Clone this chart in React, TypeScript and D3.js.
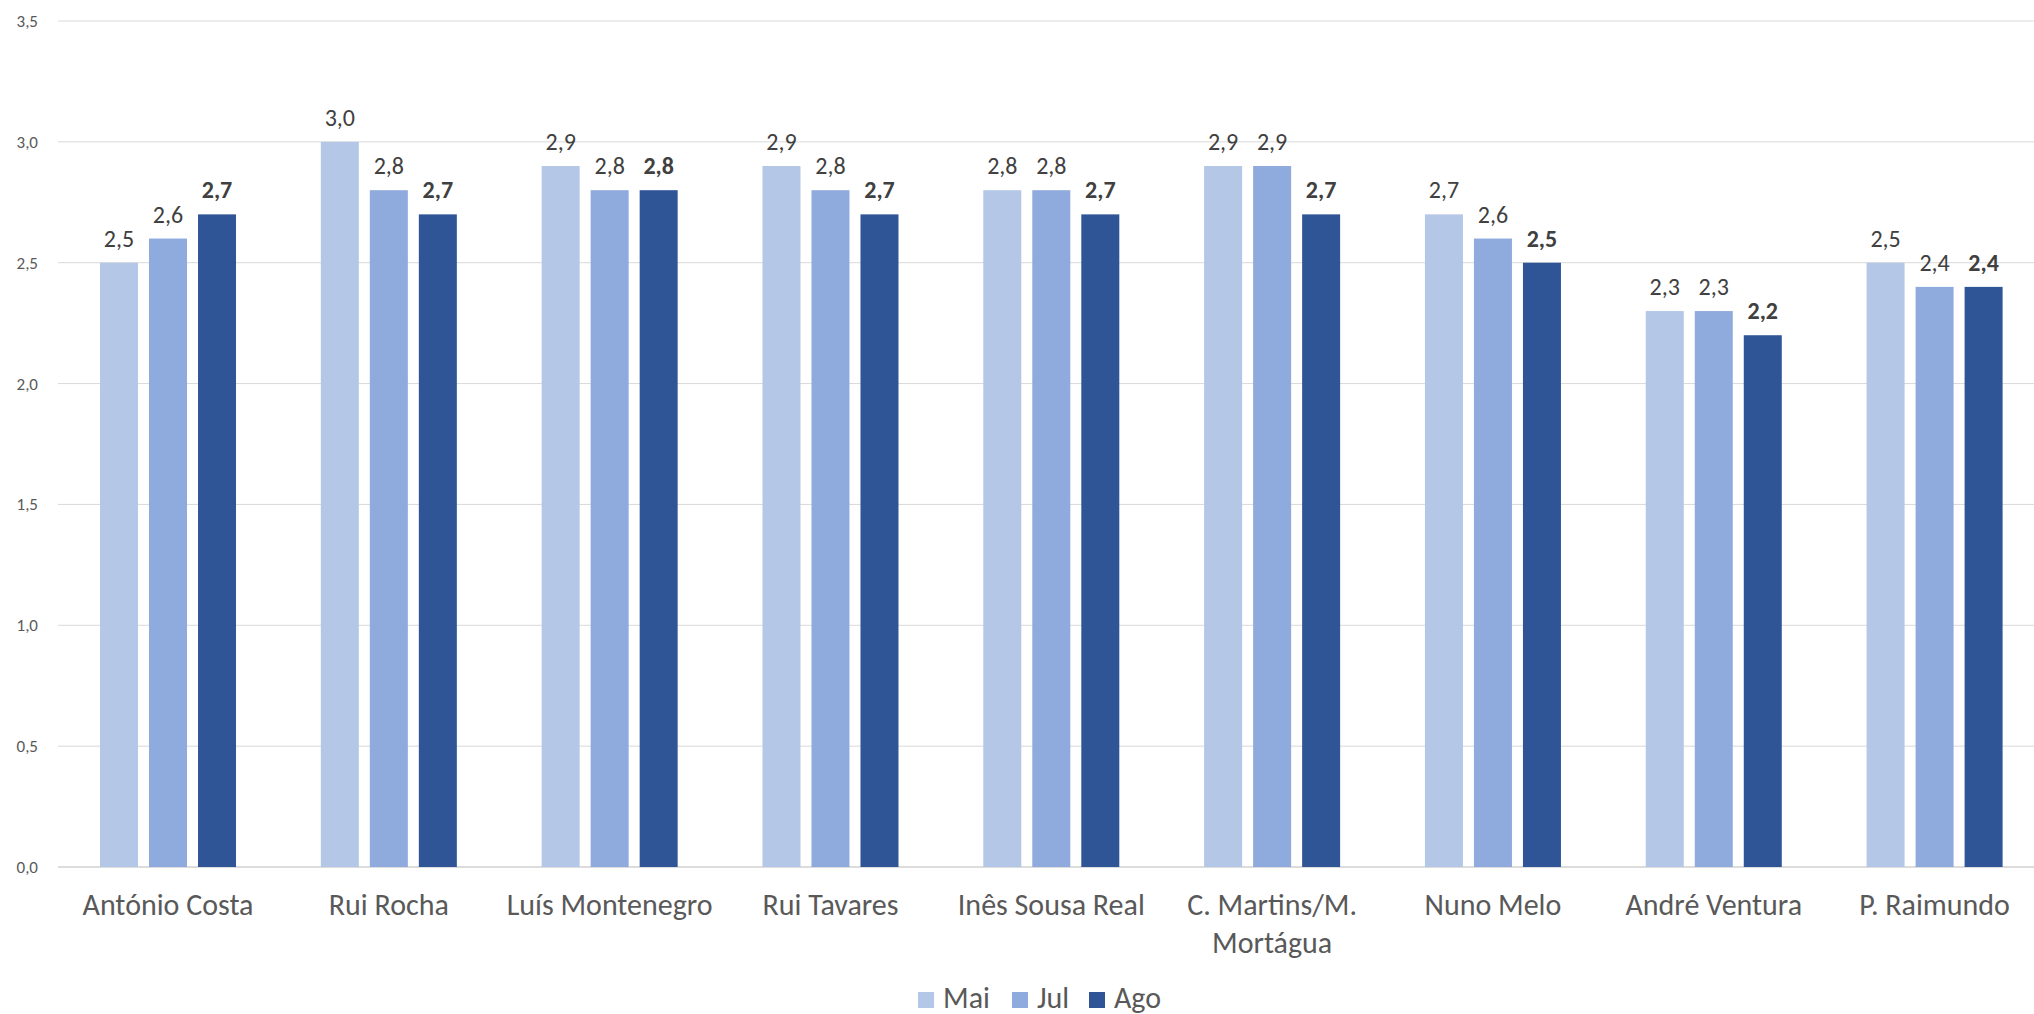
import React from "react";
import * as d3 from "d3";

const categories = [
  ["António Costa"],
  ["Rui Rocha"],
  ["Luís Montenegro"],
  ["Rui Tavares"],
  ["Inês Sousa Real"],
  ["C. Martins/M.", "Mortágua"],
  ["Nuno Melo"],
  ["André Ventura"],
  ["P. Raimundo"],
];
const seriesNames = ["Mai", "Jul", "Ago"];
const mai = [2.5, 3.0, 2.9, 2.9, 2.8, 2.9, 2.7, 2.3, 2.5];
const jul = [2.6, 2.8, 2.8, 2.8, 2.8, 2.9, 2.6, 2.3, 2.4];
const ago = [2.7, 2.7, 2.8, 2.7, 2.7, 2.7, 2.5, 2.2, 2.4];
const yTicks = [0, 0.5, 1.0, 1.5, 2.0, 2.5, 3.0, 3.5];
const colors = ["#B4C7E7", "#8FAADC", "#2F5597"];

const W = 2034;
const H = 1014;
const FONT = "Calibri, Carlito, Lato, sans-serif";

export default function App() {
  const seriesValues = [mai, jul, ago];
  const catKeys = categories.map((c) => c.join(" "));
  const x0 = d3.scaleBand<string>().domain(catKeys).range([57.6, 2045]).padding(0);
  const groupW = x0.bandwidth() * (136 / 220.8);
  const x1 = d3
    .scaleBand<string>()
    .domain(seriesNames)
    .range([-groupW / 2, groupW / 2])
    .paddingInner(11 / 49)
    .paddingOuter(0);
  const y = d3.scaleLinear().domain([0, 3.5]).range([867, 21]);
  const fmt = (v: number) => d3.format(".1f")(v).replace(".", ",");

  const legendItems = [
    { sq: 918, tx: 943 },
    { sq: 1012, tx: 1037 },
    { sq: 1089, tx: 1114 },
  ];

  return (
    <svg
      width={W}
      height={H}
      style={{ position: "absolute", left: 0, top: 0, background: "#fff" }}
      fontFamily={FONT}
    >
      <rect width={W} height={H} fill="#fff" />
      {yTicks.map((t) => (
        <g key={t}>
          <line x1={58} x2={W} y1={y(t)} y2={y(t)} stroke={t === 0 ? "#D0D0D0" : "#D9D9D9"} strokeWidth={t === 0 ? 1.5 : 1} />
          <text x={38} y={y(t)} dy="0.35em" textAnchor="end" fontSize={17} fill="#595959">
            {fmt(t)}
          </text>
        </g>
      ))}
      {catKeys.map((k, i) => {
        const cx = (x0(k) as number) + x0.bandwidth() / 2;
        return (
          <g key={k}>
            {seriesNames.map((s, j) => {
              const v = seriesValues[j][i];
              const bx = cx + (x1(s) as number);
              return (
                <g key={s}>
                  <rect x={bx} y={y(v)} width={x1.bandwidth()} height={y(0) - y(v)} fill={colors[j]} />
                  <text
                    x={bx + x1.bandwidth() / 2}
                    y={y(v) - 16}
                    textAnchor="middle"
                    fontSize={24}
                    fontWeight={j === 2 ? "bold" : "normal"}
                    fill="#404040"
                  >
                    {fmt(v)}
                  </text>
                </g>
              );
            })}
            {categories[i].map((line, li) => (
              <text key={li} x={cx} y={915 + li * 38} textAnchor="middle" fontSize={30} fill="#595959">
                {line}
              </text>
            ))}
          </g>
        );
      })}
      {seriesNames.map((s, j) => (
        <g key={s}>
          <rect x={legendItems[j].sq} y={992} width={16} height={16} fill={colors[j]} />
          <text x={legendItems[j].tx} y={1008} fontSize={30} fill="#595959">
            {s}
          </text>
        </g>
      ))}
    </svg>
  );
}
